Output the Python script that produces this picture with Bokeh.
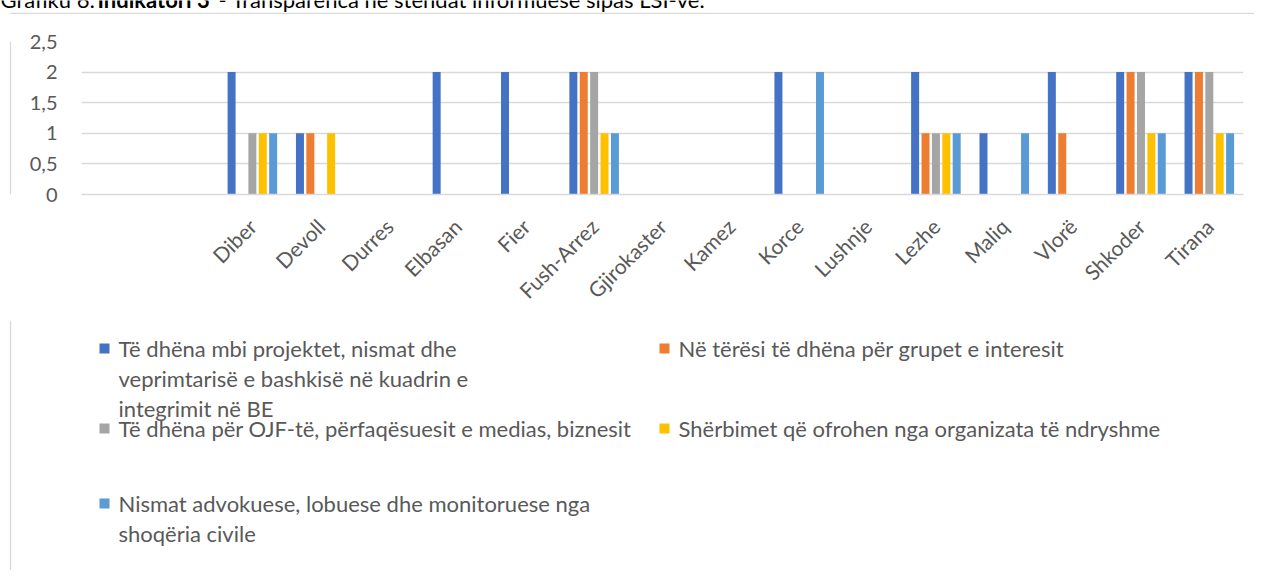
from bokeh.plotting import figure
from bokeh.models import (FactorRange, Range1d, FixedTicker, CustomJSTickFormatter,
                          ColumnDataSource)
from bokeh.layouts import column, row
from bokeh.transform import dodge
from bokeh.core.properties import value
from bokeh.embed import file_html
from bokeh.resources import INLINE
from math import pi

# ---------------- data ----------------
towns = ["Diber", "Devoll", "Durres", "Elbasan", "Fier", "Fush-Arrez", "Gjirokaster",
         "Kamez", "Korce", "Lushnje", "Lezhe", "Maliq", "Vlorë", "Shkoder", "Tirana"]
blank_categories = ["", " "]
categories = blank_categories + towns

s_projektet = [2, 1, 0, 2, 2, 2, 0, 0, 2, 0, 2, 1, 2, 2, 2]
s_grupet    = [0, 1, 0, 0, 0, 2, 0, 0, 0, 0, 1, 0, 1, 2, 2]
s_ojf       = [1, 0, 0, 0, 0, 2, 0, 0, 0, 0, 1, 0, 0, 2, 2]
s_sherbimet = [1, 1, 0, 0, 0, 1, 0, 0, 0, 0, 1, 0, 0, 1, 1]
s_nismat    = [1, 0, 0, 0, 0, 1, 0, 0, 2, 0, 1, 1, 0, 1, 1]

series_names = [
    "Të dhëna mbi projektet, nismat dhe\nveprimtarisë e bashkisë në kuadrin e\nintegrimit në BE",
    "Në tërësi të dhëna për grupet e interesit",
    "Të dhëna për OJF-të, përfaqësuesit e medias, biznesit",
    "Shërbimet që ofrohen nga organizata të ndryshme",
    "Nismat advokuese, lobuese dhe monitoruese nga\nshoqëria civile",
]
series_keys = ["projektet", "grupet", "ojf", "sherbimet", "nismat"]
colors = ["#4472C4", "#ED7D31", "#A5A5A5", "#FFC000", "#5B9BD5"]
y_ticks = [0, 0.5, 1, 1.5, 2, 2.5]

title_parts = ["Grafiku 6: ", "Indikatori 3", " - Transparenca në stendat informuese sipas LSI-ve."]

# ---------------- style ----------------
FONT = "Lato"
TXT = "#595959"
BORDER = "#D9D9D9"
W = 1254


def blank_fig(w, h, x0, x1, y_top, y_bottom):
    f = figure(width=w, height=h, x_range=Range1d(x0, x1), y_range=Range1d(y_bottom, y_top),
               x_axis_type=None, y_axis_type=None, output_backend="svg",
               toolbar_location=None, min_border=0)
    f.outline_line_color = None
    f.background_fill_color = "white"
    f.border_fill_color = "white"
    return f


# ---------------- title strip (cut off at page top) ----------------
T = blank_fig(W, 14, 0, W, 0, 14)
title_x = [0, 97, 218]
for part, tx, st in zip(title_parts, title_x, ["normal", "bold", "normal"]):
    T.text(x=[tx], y=[-1.5], text=[part], text_font=value(FONT), text_font_size="22px",
           text_color="#000000", text_font_style=st, text_baseline="middle",
           text_align="left")
T.segment(x0=[10, 10], y0=[13, 13], x1=[W, 10], y1=[13, 14], line_color=BORDER, line_width=1.3)

# ---------------- left border strip ----------------
S = blank_fig(18, 306, 0, 18, 14, 320)
S.segment(x0=[10], y0=[14], x1=[10], y1=[320], line_color=BORDER, line_width=1.3)

# ---------------- chart ----------------
src = ColumnDataSource(dict(town=towns, projektet=s_projektet, grupet=s_grupet,
                            ojf=s_ojf, sherbimet=s_sherbimet, nismat=s_nismat))

C = figure(x_range=FactorRange(*categories, range_padding=0),
           y_range=Range1d(0, 2.5),
           width=W - 18, height=306,
           output_backend="svg", toolbar_location=None,
           min_border_left=63, min_border_right=11,
           min_border_top=27, min_border_bottom=126)
C.outline_line_color = None

step = 0.152
bar_w = 0.117
for i, (key, col) in enumerate(zip(series_keys, colors)):
    C.vbar(x=dodge("town", (i - 2) * step, range=C.x_range), top=key, width=bar_w,
           source=src, fill_color=col, line_color=None)

C.xgrid.grid_line_color = None
C.ygrid.grid_line_color = BORDER
C.ygrid.grid_line_width = 1.5

C.yaxis.ticker = FixedTicker(ticks=y_ticks)
C.yaxis.formatter = CustomJSTickFormatter(code="return tick.toString().replace('.', ',');")
C.yaxis.axis_line_color = None
C.yaxis.major_tick_line_color = None
C.yaxis.minor_tick_line_color = None
C.yaxis.major_tick_out = 0
C.yaxis.major_tick_in = 0
C.yaxis.major_label_standoff = 24
C.yaxis.major_label_text_font = FONT
C.yaxis.major_label_text_font_size = "20px"
C.yaxis.major_label_text_color = TXT

C.xaxis.axis_line_color = BORDER
C.xaxis.axis_line_width = 1.5
C.xaxis.major_tick_line_color = None
C.xaxis.major_tick_out = 0
C.xaxis.major_tick_in = 0
C.xaxis.major_label_orientation = pi / 4
C.xaxis.major_label_standoff = 28
C.xaxis.major_label_text_font = FONT
C.xaxis.major_label_text_font_size = "21px"
C.xaxis.major_label_text_color = TXT

# ---------------- legend ----------------
L = blank_fig(W, 250, 0, W, 320, 570)
L.segment(x0=[10], y0=[320], x1=[10], y1=[570], line_color=BORDER, line_width=1.3)

legend_pos = [(99, 348), (659, 348), (99, 428), (659, 428), (99, 503)]
line_gap = 30
for name, col, (lx, ly) in zip(series_names, colors, legend_pos):
    L.rect(x=[lx + 5], y=[ly], width=10, height=10, fill_color=col, line_color=None)
    lines = name.split("\n")
    L.text(x=[lx + 19] * len(lines), y=[ly + j * line_gap for j in range(len(lines))],
           text=lines, text_font=value(FONT), text_font_size="22px", text_color=TXT,
           text_baseline="middle", text_align="left")

root = column(T, row(S, C), L)

open("out.html", "w").write(file_html(root, INLINE))
